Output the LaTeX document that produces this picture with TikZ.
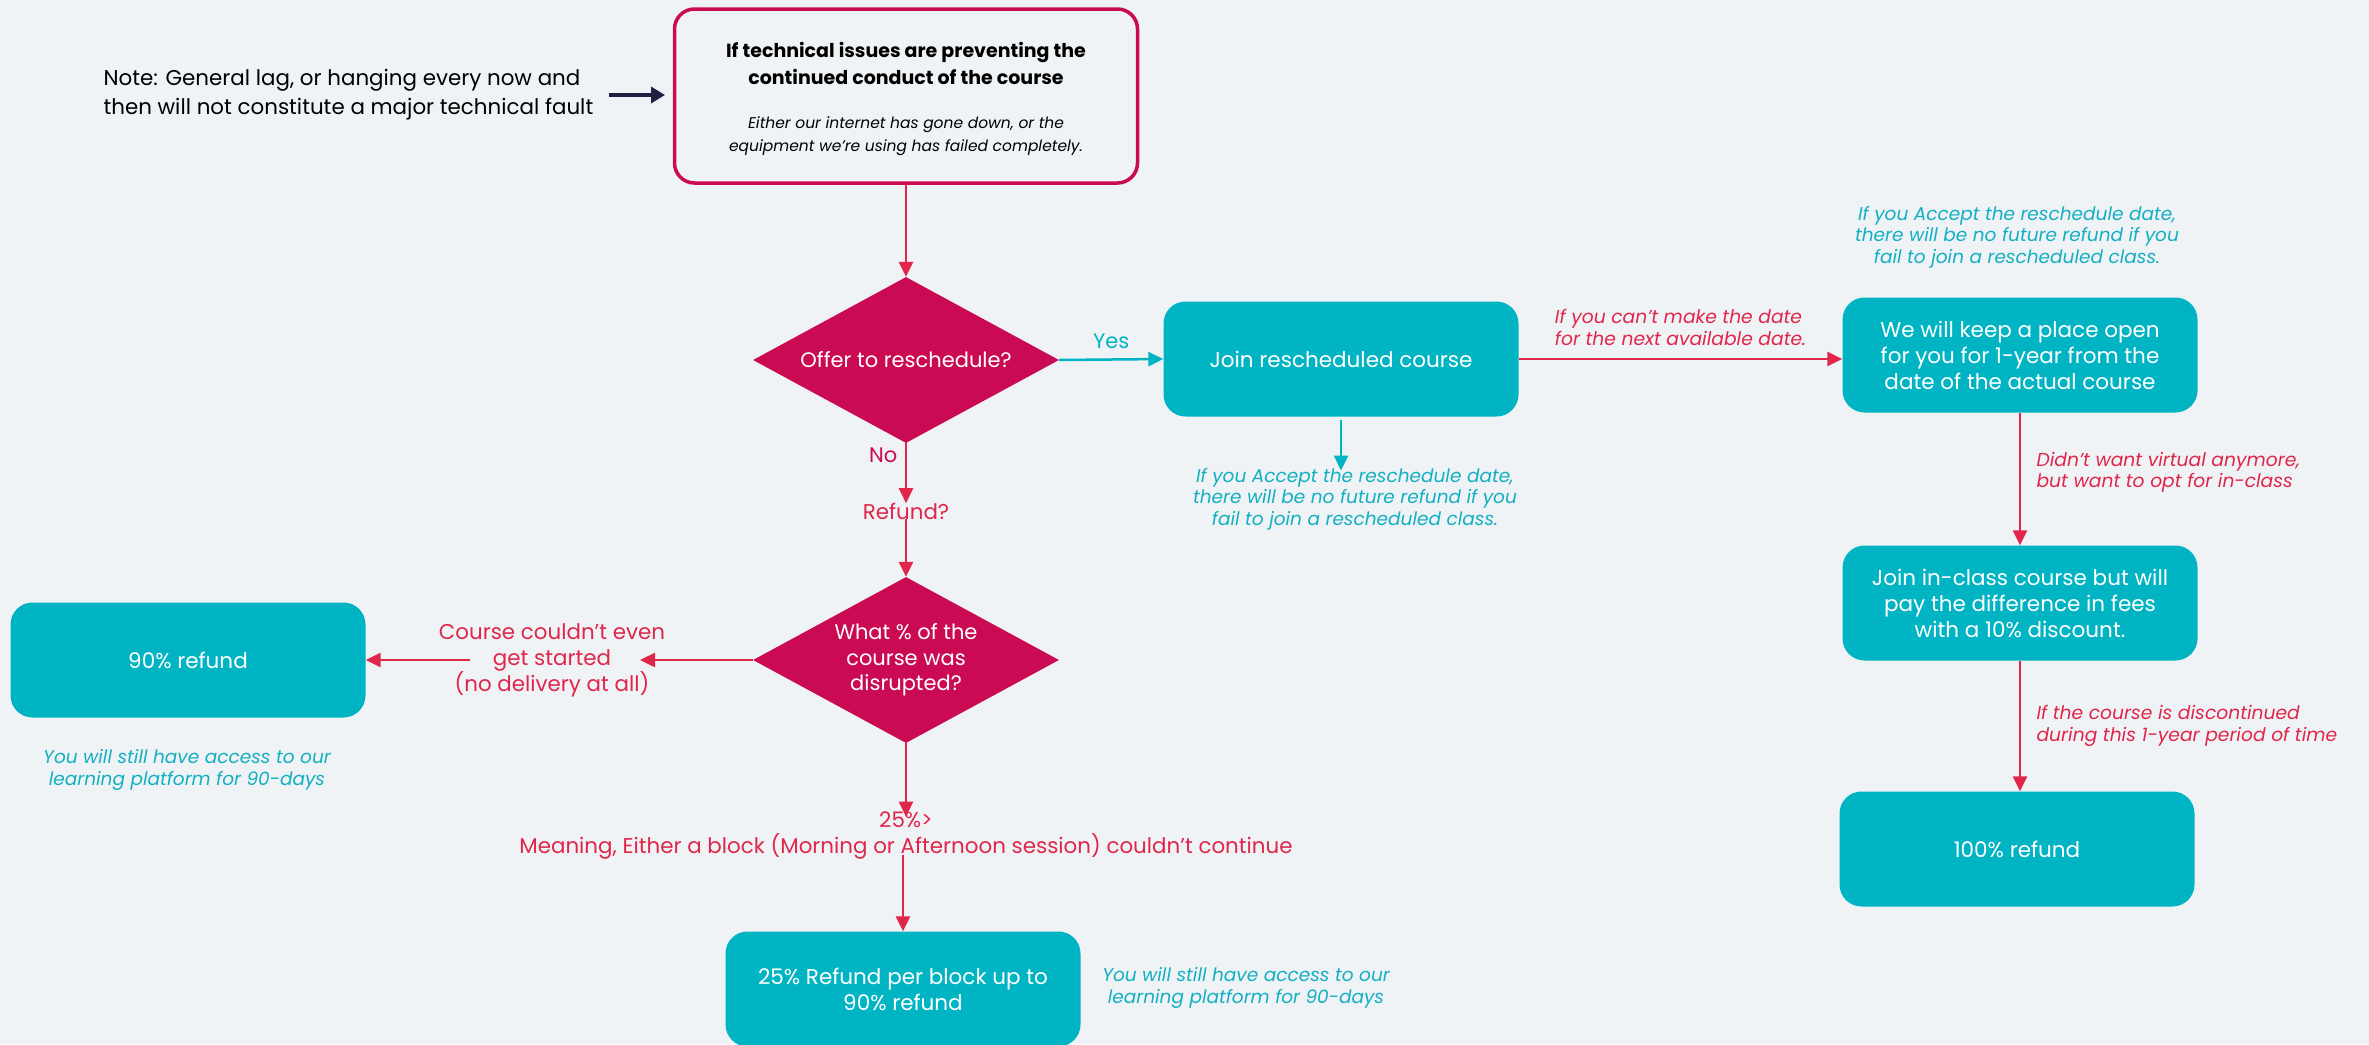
\documentclass[tikz,border=0pt]{standalone}
\usepackage{fontspec}
\setmainfont{Poppins}
\usetikzlibrary{shapes.geometric,arrows.meta,positioning}

\definecolor{bgGrey}{HTML}{F0F3F6}
\definecolor{tealBox}{HTML}{00B4C3}
\definecolor{tealText}{HTML}{12B0C2}
\definecolor{crimson}{HTML}{CB0A54}
\definecolor{redLine}{HTML}{E0264A}
\definecolor{navy}{HTML}{1D2040}

\begin{document}
\begin{tikzpicture}[
        x=1pt, y=-1pt,
        boxNode/.style={rectangle, rounded corners=22pt, fill=tealBox, text=white, minimum width=355pt, minimum height=115pt, inner sep=0pt, align=center, font=\fontsize{21.5}{26}\selectfont},
        choiceNode/.style={diamond, aspect=1.84, fill=crimson, text=white, minimum width=306pt, minimum height=166pt, inner sep=0pt, align=center, font=\fontsize{21}{25.5}\selectfont},
        redNote/.style={text=redLine, align=left, font=\fontsize{18.7}{21.5}\selectfont\itshape},
        tealNote/.style={text=tealText, align=center, font=\fontsize{18.5}{21.5}\selectfont\itshape},
        redLabel/.style={text=redLine, align=center, font=\fontsize{21.4}{26}\selectfont},
        redArrow/.style={draw=redLine, line width=2.5pt, -{Triangle[length=15pt, width=14pt]}},
        tealArrow/.style={draw=tealBox, line width=2.5pt, -{Triangle[length=15pt, width=14pt]}}
    ]
        % Background
        \fill[bgGrey] (0,0) rectangle (2369,1044);
        \useasboundingbox (0,0) rectangle (2369,1044);

        % Start box and note
        \node[rectangle, rounded corners=20pt, draw=crimson, line width=3.5pt, fill=bgGrey, minimum width=463pt, minimum height=174pt, inner sep=0pt, align=center] (issue) at (906,96) {};
        \node[align=center, font=\fontsize{19}{27}\selectfont\bfseries] (issueTitle) at (906,63) {If technical issues are preventing the\\continued conduct of the course};
        \node[align=center, font=\fontsize{15.5}{23}\selectfont\itshape] (issueSub) at (906,136) {Either our internet has gone down, or the\\equipment we’re using has failed completely.};
        \node[anchor=west, align=left, font=\fontsize{21.4}{29}\selectfont] (note) at (100,95) {Note: General lag, or hanging every now and\\then will not constitute a major technical fault};
        \coordinate (noteEnd) at (665,95);
        \coordinate (noteStart) at (609,95);

        % Decisions
        \node[choiceNode] (offer) at (906,360) {Offer to reschedule?};
        \node[redLabel] (refund) at (906,511) {Refund?};
        \node[choiceNode] (disrupt) at (906,660) {What \% of the\\course was\\disrupted?};

        % Reschedule branch
        \node[boxNode] (join) at (1341,359) {Join rescheduled course};
        \node[tealNote] (acceptNote) at (1355,499) {If you Accept the reschedule date,\\there will be no future refund if you\\fail to join a rescheduled class.};
        \node[boxNode] (keep) at (2020,355) {We will keep a place open\\for you for 1-year from the\\date of the actual course};
        \node[tealNote] (keepNote) at (2017,237) {If you Accept the reschedule date,\\there will be no future refund if you\\fail to join a rescheduled class.};
        \node[boxNode] (inclass) at (2020,603) {Join in-class course but will\\pay the difference in fees\\with a 10\% discount.};
        \node[boxNode] (full) at (2017,849) {100\% refund};

        % Refund branch
        \node[redLabel] (noStart) at (552,660) {Course couldn’t even\\get started\\(no delivery at all)};
        \node[boxNode] (ninety) at (188,660) {90\% refund};
        \node[tealNote] (accessLeft) at (187,770) {You will still have access to our\\learning platform for 90-days};
        \node[redLabel] (quarter) at (906,836) {25\%>\\Meaning, Either a block (Morning or Afternoon session) couldn’t continue};
        \node[boxNode] (perBlock) at (903,989) {25\% Refund per block up to\\90\% refund};
        \node[tealNote] (accessRight) at (1246,988) {You will still have access to our\\learning platform for 90-days};

        % Edges
        \draw[navy, line width=4pt, -{Triangle[length=14pt, width=16pt]}] (noteStart) -- (noteEnd);
        \draw[redArrow] (issue) -- (offer);
        \draw[tealArrow] (offer.east) -- node[above=6pt, text=tealBox, font=\fontsize{21}{24}\selectfont] {Yes} (join.west);
        \draw[redArrow] (offer.south) -- node[left=4pt, pos=0.2, text=crimson, font=\fontsize{21}{24}\selectfont] {No} ([yshift=-4pt]refund.north);
        \draw[redArrow] ([yshift=4pt]refund.south) -- (disrupt.north);
        \draw[tealArrow] ([yshift=-3pt]join.south) -- ([yshift=-6pt]join.south |- acceptNote.north);
        \draw[redArrow] (join.east) -- node[above=9pt, redNote] {If you can’t make the date\\for the next available date.} (keep.west |- join.east);
        \draw[redArrow] (keep.south) -- node[right=12pt, pos=0.45, redNote] {Didn’t want virtual anymore,\\but want to opt for in-class} (inclass.north);
        \draw[redArrow] (inclass.south) -- node[right=12pt, redNote] {If the course is discontinued\\during this 1-year period of time} (full.north -| inclass.south);
        \draw[redArrow] (disrupt.west) -- ([xshift=88pt]noStart.center);
        \draw[redArrow] ([xshift=-82pt]noStart.center) -- (ninety.east);
        \draw[redArrow] (disrupt.south) -- ([yshift=-8pt]quarter.north);
        \draw[redArrow] ([yshift=8pt]quarter.south -| perBlock.north) -- (perBlock.north);
    \end{tikzpicture}
\end{document}
